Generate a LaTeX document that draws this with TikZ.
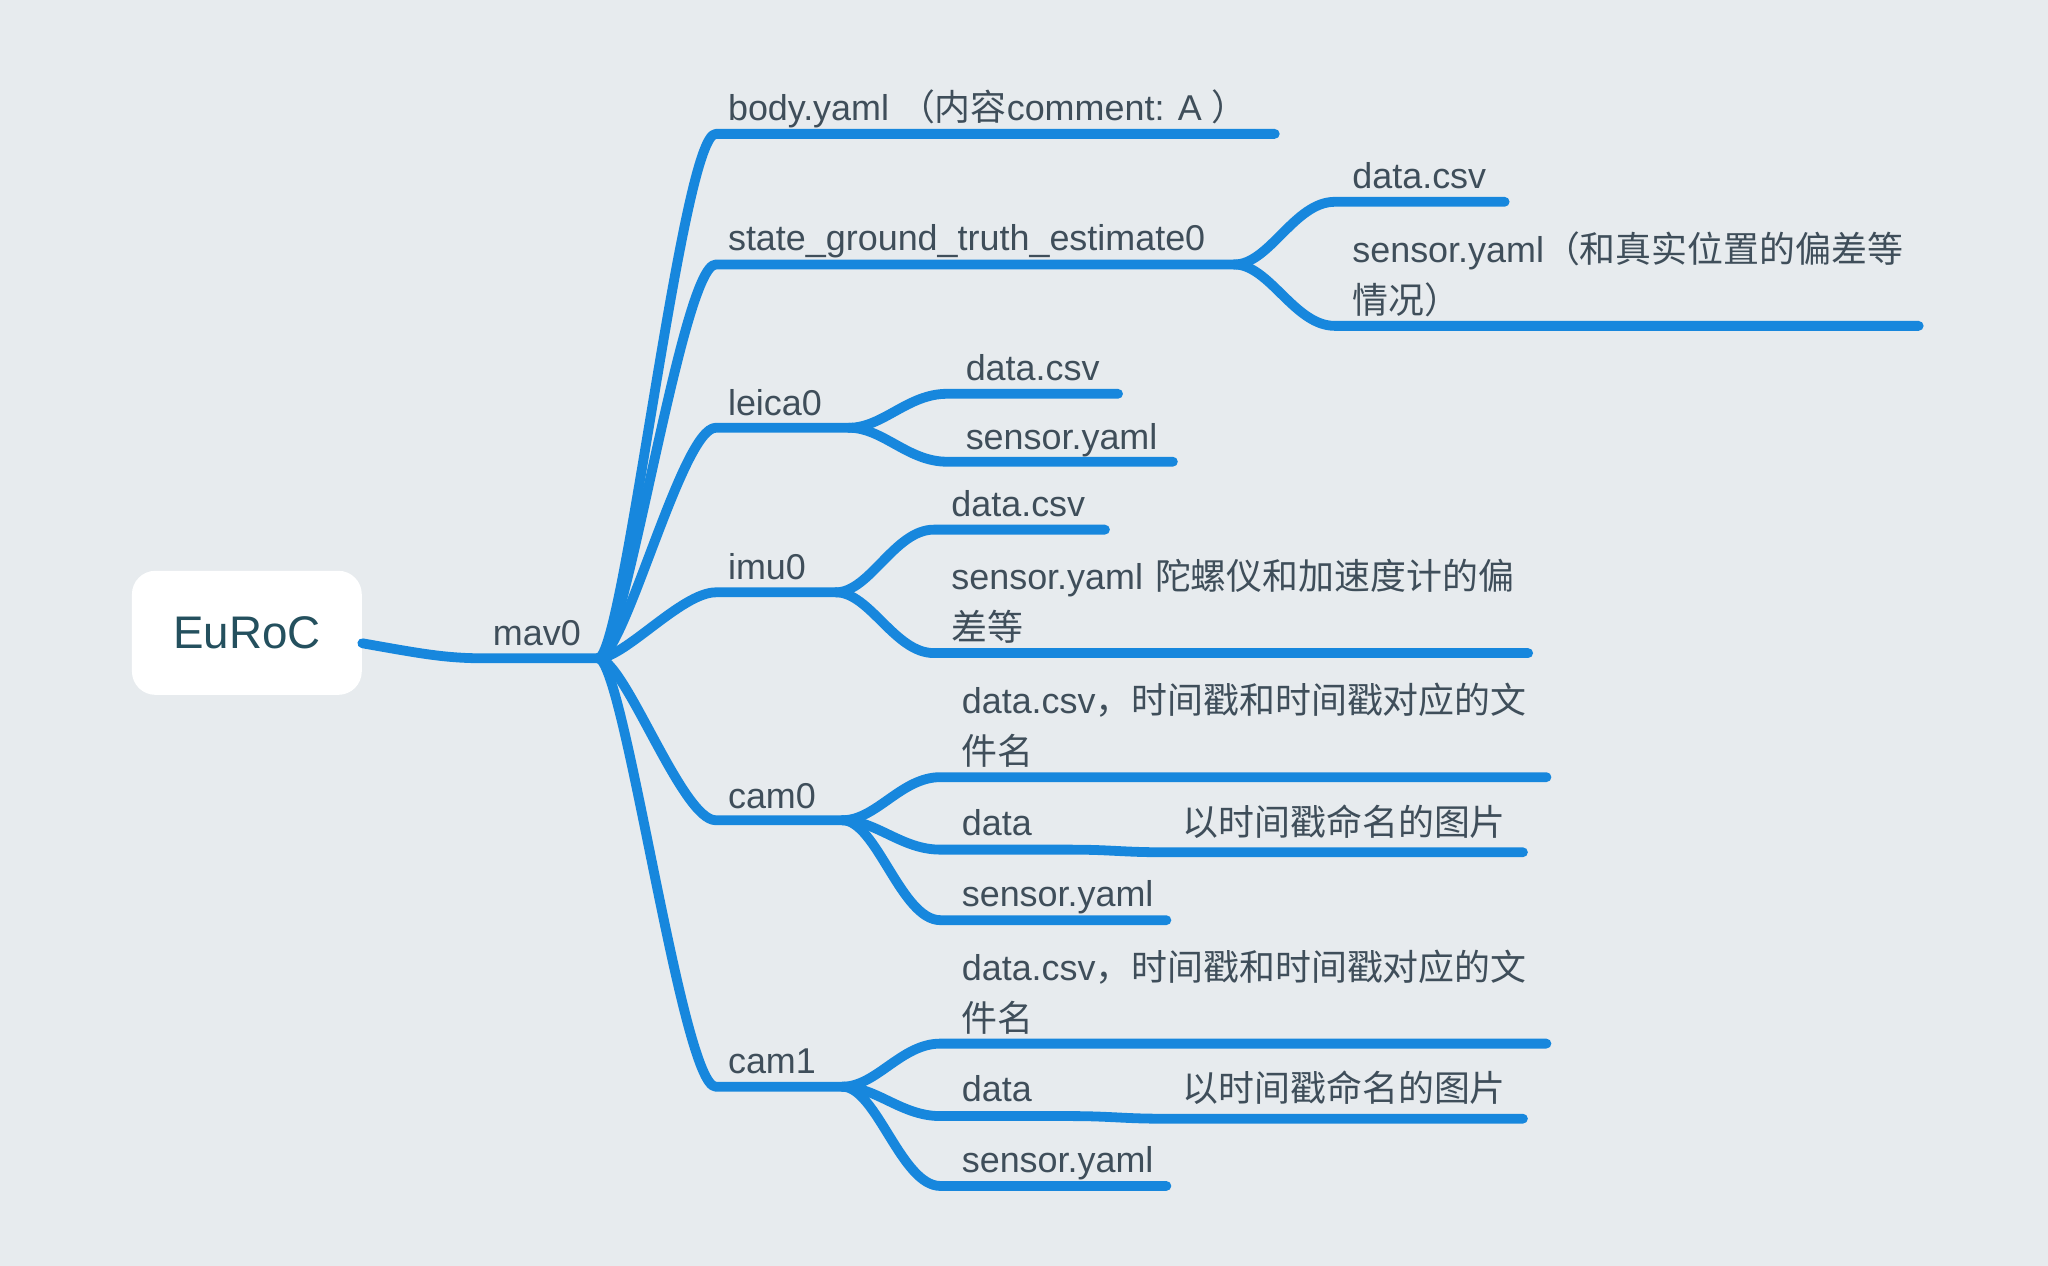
\documentclass[tikz,border=0pt]{standalone}
\usepackage{fontspec}
\setmainfont{Liberation Sans}
\newfontfamily\cjk{Noto Sans CJK SC}
\definecolor{bgc}{HTML}{E7EBEE}
\definecolor{brc}{HTML}{1787DD}
\definecolor{txc}{HTML}{3F4E5A}
\definecolor{rootc}{HTML}{24505E}
\begin{document}
\begin{tikzpicture}[x=0.5pt,y=-0.5pt,
  br/.style={draw=brc,line width=3.75pt,line cap=round,line join=round},
  lbl/.style={anchor=base west,inner sep=0pt,text=txc,font=\fontsize{13.75}{19.5}\selectfont},
  mlbl/.style={lbl,text width=320pt,align=left},
  rootbox/.style={fill=white,rounded corners=9pt,minimum width=88pt,minimum height=47.5pt,inner sep=0pt,text=rootc,font=\fontsize{17.5}{21}\selectfont}]
\fill[bgc] (0,0) rectangle (1568,969);
\useasboundingbox (0,0) rectangle (1568,969);

% root
\node[rootbox] (root) at (189,484.5) {EuRoC};
\coordinate (jmav) at (458,504);
\draw[br] ([yshift=-4pt]root.east) .. controls (320,500) and (340,504) .. (370,504) -- (jmav);
\node[lbl] (mav0) at (377,494) {mav0};

% first level coordinates
\coordinate (body-s) at (548,102.5);  \coordinate (body-e) at (976,102.5);
\coordinate (sgt-s) at (548,202.5);   \coordinate (sgt-j) at (945,202.5);
\coordinate (leica-s) at (548,327.5); \coordinate (leica-j) at (650,327.5);
\coordinate (imu-s) at (548,453.5);   \coordinate (imu-j) at (640,453.5);
\coordinate (cam0-s) at (548,628);    \coordinate (cam0-j) at (645,628);
\coordinate (cam1-s) at (548,832);    \coordinate (cam1-j) at (645,832);

\draw[br] (jmav) .. controls (478,504) and (522,102.5) .. (body-s) -- (body-e);
\draw[br] (jmav) .. controls (478,504) and (522,202.5) .. (sgt-s) -- (sgt-j);
\draw[br] (jmav) .. controls (478,504) and (522,327.5) .. (leica-s) -- (leica-j);
\draw[br] (jmav) .. controls (478,504) and (522,453.5) .. (imu-s) -- (imu-j);
\draw[br] (jmav) .. controls (478,504) and (522,628) .. (cam0-s) -- (cam0-j);
\draw[br] (jmav) .. controls (478,504) and (522,832) .. (cam1-s) -- (cam1-j);

\node[lbl] (body) at (557,92.4) {body.yaml {\cjk （内容}comment: A {\cjk ）}};
\node[lbl] (sgt) at (557,192) {state\_ground\_truth\_estimate0};
\node[lbl] (leica) at (557,317.8) {leica0};
\node[lbl] (imu) at (557,443.6) {imu0};
\node[lbl] (cam0) at (557,619) {cam0};
\node[lbl] (cam1) at (557,822) {cam1};

% state_ground_truth_estimate0 children
\coordinate (sgtd-s) at (1022,154.5); \coordinate (sgtd-e) at (1152,154.5);
\coordinate (sgts-s) at (1022,249.5); \coordinate (sgts-e) at (1469,249.5);
\draw[br] (sgt-j) .. controls (972,202.5) and (991,154.5) .. (sgtd-s) -- (sgtd-e);
\draw[br] (sgt-j) .. controls (972,202.5) and (991,249.5) .. (sgts-s) -- (sgts-e);
\node[lbl] (sgtd) at (1035,144.7) {data.csv};
\node[mlbl] (sgts) at (1035,201) {sensor.yaml{\cjk （和真实位置的偏差等}\\{\cjk 情况）}};

% leica0 children
\coordinate (lcd-s) at (725,301.5); \coordinate (lcd-e) at (856,301.5);
\coordinate (lcs-s) at (725,353.5); \coordinate (lcs-e) at (898,353.5);
\draw[br] (leica-j) .. controls (676,327.5) and (695,301.5) .. (lcd-s) -- (lcd-e);
\draw[br] (leica-j) .. controls (676,327.5) and (695,353.5) .. (lcs-s) -- (lcs-e);
\node[lbl] (lcd) at (739,291.5) {data.csv};
\node[lbl] (lcs) at (739,344) {sensor.yaml};

% imu0 children
\coordinate (imd-s) at (715,405.5); \coordinate (imd-e) at (846,405.5);
\coordinate (ims-s) at (715,500);   \coordinate (ims-e) at (1170,500);
\draw[br] (imu-j) .. controls (666,453.5) and (685,405.5) .. (imd-s) -- (imd-e);
\draw[br] (imu-j) .. controls (666,453.5) and (685,500) .. (ims-s) -- (ims-e);
\node[lbl] (imd) at (728,395.5) {data.csv};
\node[mlbl] (ims) at (728,451) {sensor.yaml {\cjk 陀螺仪和加速度计的偏}\\{\cjk 差等}};

% cam0 children
\coordinate (c0c-s) at (720,595);   \coordinate (c0c-e) at (1184,595);
\coordinate (c0d-s) at (720,650.5); \coordinate (c0d-e) at (1166,652.5);
\coordinate (c0s-s) at (720,704.5); \coordinate (c0s-e) at (893,704.5);
\draw[br] (cam0-j) .. controls (671,628) and (690,595) .. (c0c-s) -- (c0c-e);
\draw[br] (cam0-j) .. controls (671,628) and (690,650.5) .. (c0d-s) -- (820,650.5) .. controls (850,650.5) and (860,652.5) .. (890,652.5) -- (c0d-e);
\draw[br] (cam0-j) .. controls (671,628) and (690,704.5) .. (c0s-s) -- (c0s-e);
\node[mlbl] (c0c) at (736,546) {data.csv{\cjk ，时间戳和时间戳对应的文}\\{\cjk 件名}};
\node[lbl] (c0d) at (736,639.5) {\makebox[84.5pt][l]{data}{\cjk 以时间戳命名的图片}};
\node[lbl] (c0s) at (736,694) {sensor.yaml};

% cam1 children
\coordinate (c1c-s) at (720,799);   \coordinate (c1c-e) at (1184,799);
\coordinate (c1d-s) at (720,854.5); \coordinate (c1d-e) at (1166,856.5);
\coordinate (c1s-s) at (720,908);   \coordinate (c1s-e) at (893,908);
\draw[br] (cam1-j) .. controls (671,832) and (690,799) .. (c1c-s) -- (c1c-e);
\draw[br] (cam1-j) .. controls (671,832) and (690,854.5) .. (c1d-s) -- (820,854.5) .. controls (850,854.5) and (860,856.5) .. (890,856.5) -- (c1d-e);
\draw[br] (cam1-j) .. controls (671,832) and (690,908) .. (c1s-s) -- (c1s-e);
\node[mlbl] (c1c) at (736,750.4) {data.csv{\cjk ，时间戳和时间戳对应的文}\\{\cjk 件名}};
\node[lbl] (c1d) at (736,843.5) {\makebox[84.5pt][l]{data}{\cjk 以时间戳命名的图片}};
\node[lbl] (c1s) at (736,898) {sensor.yaml};
\end{tikzpicture}
\end{document}
